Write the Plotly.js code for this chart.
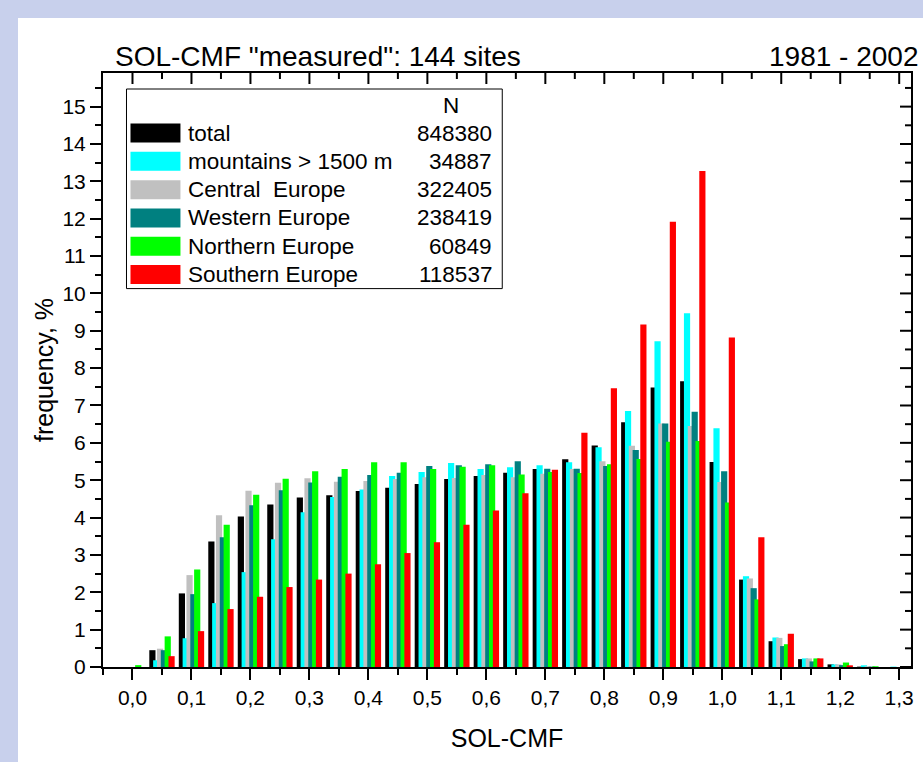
<!DOCTYPE html>
<html>
<head>
<meta charset="utf-8">
<script src="https://cdn.plot.ly/plotly-3.0.1.min.js"></script>
<style>
  html, body { margin: 0; padding: 0; background: #c8d0ec; width: 923px; height: 762px; overflow: hidden; }
  #chart { position: absolute; left: 18px; top: 18px; width: 905px; height: 744px; background: #ffffff; }
</style>
</head>
<body>
<div id="chart"></div>
<script>
// ---- data ----
const bins = [0.00,0.05,0.10,0.15,0.20,0.25,0.30,0.35,0.40,0.45,0.50,0.55,0.60,0.65,0.70,0.75,0.80,0.85,0.90,0.95,1.00,1.05,1.10,1.15,1.20,1.25,1.30];
const total     = [0,0.45,1.97,3.36,4.03,4.35,4.54,4.60,4.71,4.80,4.90,5.03,5.11,5.20,5.30,5.56,5.93,6.55,7.48,7.65,5.49,2.34,0.69,0.21,0.07,0.01,0];
const mountains = [0,0.18,0.77,1.71,2.54,3.42,4.14,4.55,4.75,5.11,5.22,5.46,5.30,5.35,5.40,5.48,5.88,6.85,8.72,9.47,6.39,2.43,0.79,0.23,0.07,0.045,0.01];
const central   = [0,0.49,2.46,4.06,4.72,4.93,5.05,4.96,4.98,5.03,5.08,5.06,5.14,5.08,5.17,5.30,5.51,5.92,6.52,6.45,4.95,2.37,0.78,0.23,0.07,0.02,0];
const western   = [0,0.45,1.95,3.47,4.33,4.73,4.94,5.09,5.14,5.20,5.38,5.40,5.43,5.51,5.31,5.31,5.38,5.81,6.52,6.83,5.24,2.11,0.56,0.15,0.05,0.01,0];
const northern  = [0.05,0.82,2.61,3.81,4.61,5.04,5.24,5.30,5.48,5.48,5.30,5.36,5.40,5.15,5.22,5.19,5.43,5.57,6.03,6.05,4.40,1.81,0.61,0.23,0.12,0.02,0.01];
const southern  = [0,0.29,0.96,1.55,1.88,2.14,2.34,2.50,2.75,3.05,3.34,3.81,4.19,4.65,5.28,6.27,7.46,9.17,11.92,13.28,8.82,3.47,0.89,0.23,0.045,0,0];

const seriesNames = ['total','mountains > 1500 m','Central  Europe','Western Europe','Northern Europe','Southern Europe'];
const seriesN = ['848380','34887','322405','238419','60849','118537'];
const seriesColors = ['#000000','#00ffff','#c0c0c0','#008080','#00ff00','#ff0000'];
const seriesValues = [total, mountains, central, western, northern, southern];

const xTickVals = [0,0.1,0.2,0.3,0.4,0.5,0.6,0.7,0.8,0.9,1.0,1.1,1.2,1.3];
const xTickLabels = ['0,0','0,1','0,2','0,3','0,4','0,5','0,6','0,7','0,8','0,9','1,0','1,1','1,2','1,3'];
const yTickVals = [0,1,2,3,4,5,6,7,8,9,10,11,12,13,14,15];
const yTickLabels = ['0','1','2','3','4','5','6','7','8','9','10','11','12','13','14','15'];

const titleLeft = 'SOL-CMF "measured": 144 sites';
const titleRight = '1981 - 2002';

// ---- style ----
const FONT = '"Liberation Sans", Arial, sans-serif';
const W = 905, H = 744;
const M = {l: 84.5, r: 12, t: 55, b: 95.3};
const xRange = [-0.05, 1.32];
const yRange = [0, 15.9];
const barW = 0.0105, barStep = 0.0065;
const majorLen = 11, minorLen = 6;

// pixel (in the chart div) -> paper coordinates
const pw = W - M.l - M.r, ph = H - M.t - M.b;
const px = v => (v - M.l) / pw;
const py = v => (H - M.b - v) / ph;

const traces = seriesValues.map((vals, i) => ({
  type: 'bar',
  name: seriesNames[i],
  x: bins,
  y: vals,
  width: barW,
  offset: (i - 2.5) * barStep - barW / 2,
  marker: {color: seriesColors[i], line: {width: 0}},
  showlegend: false,
  hoverinfo: 'x+y+name'
}));

const shapes = [];
const annotations = [];

// mirrored inside ticks on the top and right frame, placed through the axes' own scales
const tickLine = {color: '#000', width: 2};
xTickVals.forEach(v => {
  shapes.push({type: 'line', xref: 'x', yref: 'paper', x0: v, x1: v, y0: 1, y1: 1 - majorLen / ph, line: tickLine});
  const m = v + 0.05;
  if (m < xRange[1]) shapes.push({type: 'line', xref: 'x', yref: 'paper', x0: m, x1: m, y0: 1, y1: 1 - minorLen / ph, line: tickLine});
});
yTickVals.forEach(v => {
  shapes.push({type: 'line', xref: 'paper', yref: 'y', x0: 1, x1: 1 - majorLen / pw, y0: v, y1: v, line: tickLine});
  const m = v + 0.5;
  if (m < yRange[1]) shapes.push({type: 'line', xref: 'paper', yref: 'y', x0: 1, x1: 1 - minorLen / pw, y0: m, y1: m, line: tickLine});
});

// legend (drawn manually to match the two-column layout)
const ox = -18, oy = -18; // absolute page px -> div px
shapes.push({type: 'rect', xref: 'paper', yref: 'paper',
  x0: px(126 + ox), x1: px(502 + ox), y0: py(89 + oy), y1: py(288.5 + oy),
  line: {color: '#000', width: 1}, fillcolor: 'rgba(255,255,255,1)'});
annotations.push({xref: 'paper', yref: 'paper', x: px(451 + ox), y: py(105 + oy),
  text: 'N', showarrow: false, xanchor: 'center', yanchor: 'middle', font: {family: FONT, size: 22.5, color: '#000'}});
seriesNames.forEach((nm, i) => {
  const cy = 133 + i * 28.3;
  shapes.push({type: 'rect', xref: 'paper', yref: 'paper',
    x0: px(130 + ox), x1: px(180 + ox), y0: py(cy - 9.5 + oy), y1: py(cy + 9.5 + oy),
    line: {width: 0}, fillcolor: seriesColors[i]});
  annotations.push({xref: 'paper', yref: 'paper', x: px(186 + ox), y: py(cy + oy),
    text: nm.replace(/  /g, ' &nbsp;'), showarrow: false, xanchor: 'left', yanchor: 'middle',
    font: {family: FONT, size: 22.5, color: '#000'}});
  annotations.push({xref: 'paper', yref: 'paper', x: px(494 + ox), y: py(cy + oy),
    text: seriesN[i], showarrow: false, xanchor: 'right', yanchor: 'middle',
    font: {family: FONT, size: 22.5, color: '#000'}});
});
annotations.push({xref: 'paper', yref: 'paper', x: px(113 + ox), y: py(57 + oy),
  text: titleLeft, showarrow: false, xanchor: 'left', yanchor: 'middle', font: {family: FONT, size: 28, color: '#000'}});
annotations.push({xref: 'paper', yref: 'paper', x: px(920 + ox), y: py(57 + oy),
  text: titleRight, showarrow: false, xanchor: 'right', yanchor: 'middle', font: {family: FONT, size: 28, color: '#000'}});

const tickFont = {family: FONT, size: 21, color: '#000'};
const layout = {
  width: W, height: H,
  margin: M,
  paper_bgcolor: '#ffffff',
  plot_bgcolor: '#ffffff',
  barmode: 'overlay',
  showlegend: false,
  font: {family: FONT, color: '#000'},
  xaxis: {
    range: xRange.slice(), showgrid: false, zeroline: false,
    showline: true, linecolor: '#000', linewidth: 2, mirror: true,
    ticks: 'outside', ticklen: majorLen, tickwidth: 2, tickcolor: '#000',
    tickmode: 'array', tickvals: xTickVals, ticktext: xTickLabels,
    tickfont: tickFont,
    minor: {tickmode: 'linear', tick0: 0, dtick: 0.05, ticks: 'outside', ticklen: minorLen, tickwidth: 2, tickcolor: '#000', showgrid: false},
    title: {text: 'SOL-CMF', font: {family: FONT, size: 25, color: '#000'}, standoff: 21},
    automargin: false
  },
  yaxis: {
    range: yRange.slice(), showgrid: false, zeroline: false,
    showline: true, linecolor: '#000', linewidth: 2, mirror: true,
    ticks: 'outside', ticklen: majorLen, tickwidth: 2, tickcolor: '#000',
    tickmode: 'array', tickvals: yTickVals, ticktext: yTickLabels,
    tickfont: tickFont,
    minor: {tickmode: 'linear', tick0: 0, dtick: 0.5, ticks: 'outside', ticklen: minorLen, tickwidth: 2, tickcolor: '#000', showgrid: false},
    title: {text: 'frequency, %', font: {family: FONT, size: 25, color: '#000'}, standoff: 2},
    automargin: false
  },
  shapes: shapes,
  annotations: annotations
};

Plotly.newPlot('chart', traces, layout, {displayModeBar: false, staticPlot: true});
</script>
</body>
</html>
